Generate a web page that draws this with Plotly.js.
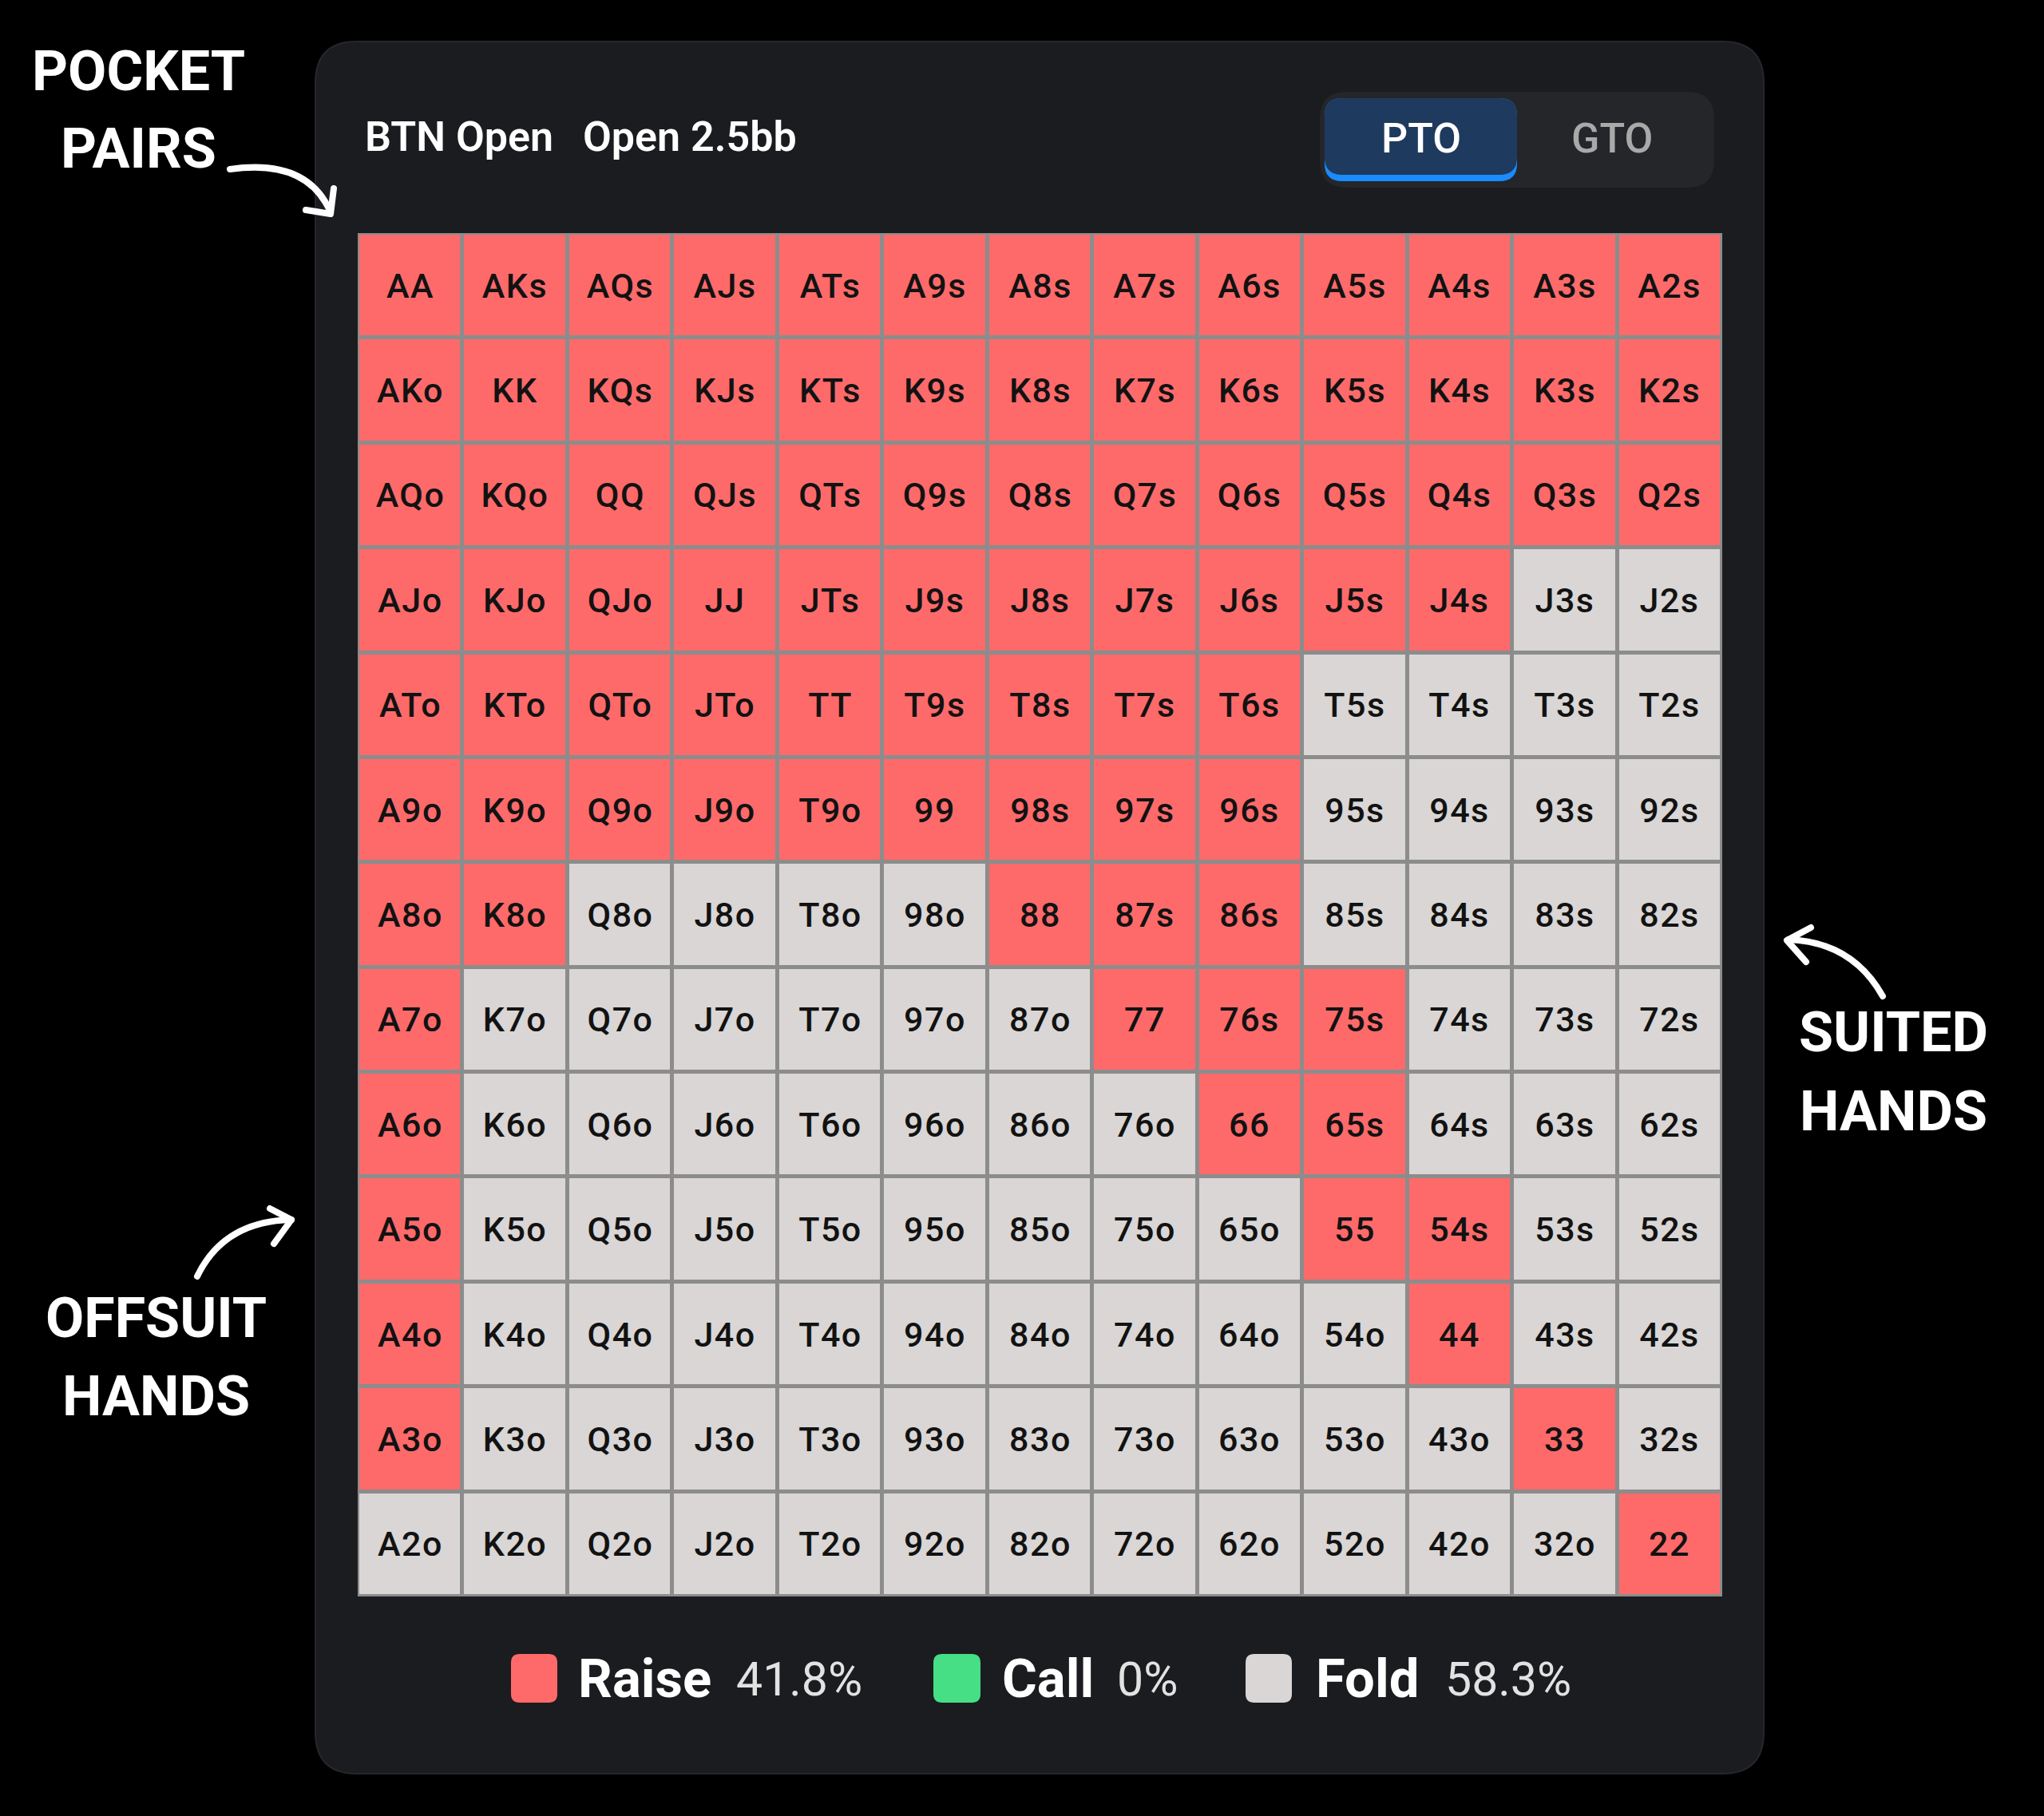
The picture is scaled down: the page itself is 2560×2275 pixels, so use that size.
<!DOCTYPE html>
<html><head><meta charset="utf-8">
<script src="https://cdn.plot.ly/plotly-3.0.1.min.js"></script>
<style>
html,body{margin:0;padding:0;background:#000;}
.shapelayer path{stroke-linecap:round;stroke-linejoin:round;}
.heatmaplayer text{letter-spacing:1.5px;}
</style>
</head><body><div id="chart" style="width:2560px;height:2275px;"></div>
<script>
// ---- data ----
const ranks = ['A','K','Q','J','T','9','8','7','6','5','4','3','2'];
// R = raise, F = fold ; row i / col j : i==j pair, j>i suited, j<i offsuit
const actionRows = [
  'RRRRRRRRRRRRR',
  'RRRRRRRRRRRRR',
  'RRRRRRRRRRRRR',
  'RRRRRRRRRRRFF',
  'RRRRRRRRRFFFF',
  'RRRRRRRRRFFFF',
  'RRFFFFRRRFFFF',
  'RFFFFFFRRRFFF',
  'RFFFFFFFRRFFF',
  'RFFFFFFFFRRFF',
  'RFFFFFFFFFRFF',
  'RFFFFFFFFFFRF',
  'FFFFFFFFFFFFR'
];
const legendNames = ['Raise','Call','Fold'];
const legendPcts = ['41.8%','0%','58.3%'];
const titleParts = ['BTN Open','Open 2.5bb'];
const toggleLabels = ['PTO','GTO'];

// ---- build matrix ----
const idx = ranks.map((r,i)=>i);
const z = actionRows.map(row => row.split('').map(c => c==='R'?1:0));
const labels = ranks.map((ri,i)=>ranks.map((rj,j)=>{
  if(i===j) return ri+rj;
  if(j>i) return ri+rj+'s';
  return rj+ri+'o';
}));

const W=2560, H=2275;
const px = x => x/W;
const py = y => 1-y/H;
const pt = (x,y) => px(x).toFixed(5)+','+py(y).toFixed(5);
function roundRect(x0,y0,x1,y1,r){
  return 'M'+pt(x0+r,y0)+' L'+pt(x1-r,y0)+' Q'+pt(x1,y0)+' '+pt(x1,y0+r)+
    ' L'+pt(x1,y1-r)+' Q'+pt(x1,y1)+' '+pt(x1-r,y1)+
    ' L'+pt(x0+r,y1)+' Q'+pt(x0,y1)+' '+pt(x0,y1-r)+
    ' L'+pt(x0,y0+r)+' Q'+pt(x0,y0)+' '+pt(x0+r,y0)+' Z';
}
function rr(x0,y0,x1,y1,r,fill,line,lw){
  return {type:'path',xref:'paper',yref:'paper',layer:'below',path:roundRect(x0,y0,x1,y1,r),
    fillcolor:fill,line:{color:line||fill,width:lw||0}};
}
function pathShape(d,w){
  return {type:'path',xref:'paper',yref:'paper',layer:'above',path:d,
    fillcolor:'rgba(0,0,0,0)',line:{color:'#ffffff',width:w}};
}
function curve(p0,c,p1){ return 'M'+pt(p0[0],p0[1])+' Q'+pt(c[0],c[1])+' '+pt(p1[0],p1[1]); }
function head(a,t,b){ return 'M'+pt(a[0],a[1])+' L'+pt(t[0],t[1])+' L'+pt(b[0],b[1]); }

const RED='#fe6a6a', GRAY='#d9d6d5', GREEN='#47df86';

const grid = {x0:448,y0:292,x1:2157,y1:2000};

const shapes = [
  rr(395,52,2209,2222,52,'#1b1c1f','#26272b',2),
  {type:'rect',xref:'paper',yref:'paper',layer:'below',x0:px(grid.x0),x1:px(grid.x1),y0:py(grid.y1),y1:py(grid.y0),
    fillcolor:'#8c8c8c',line:{width:0}},
  rr(1653,115,2147,235,34,'#25262a'),
  rr(1659,123,1900,227,22,'#1a8cff'),
  rr(1659,123,1900,219,22,'#1f3a5f'),
  // legend swatches
  rr(640,2072,698,2133,11,RED),
  rr(1169,2072,1228,2133,11,GREEN),
  rr(1560,2072,1618,2133,11,GRAY),
  // arrows
  pathShape(curve([288,212],[385,198],[414,266]),8),
  pathShape(head([383,263],[414,268],[418,236]),8),
  pathShape(curve([2358,1248],[2320,1180],[2240,1177]),8),
  pathShape(head([2268,1162],[2238,1178],[2262,1205]),8),
  pathShape(curve([247,1599],[280,1530],[365,1528]),8),
  pathShape(head([338,1514],[365,1528],[343,1558]),8)
];

function ann(text,x,y,size,color,xanchor,weight){
  return {xref:'paper',yref:'paper',x:px(x),y:py(y),text:text,showarrow:false,
    xanchor:xanchor||'center',yanchor:'middle',
    font:{family:'Roboto',size:size,color:color,weight:weight||400}};
}
const annotations = [
  ann('POCKET',173,89,70,'#ffffff','center',700),
  ann('PAIRS',173,186,70,'#ffffff','center',700),
  ann('SUITED',2371,1293,70,'#ffffff','center',700),
  ann('HANDS',2371,1392,70,'#ffffff','center',700),
  ann('OFFSUIT',195,1651,70,'#ffffff','center',700),
  ann('HANDS',195,1749,70,'#ffffff','center',700),
  ann(titleParts[0],455,171,52,'#ffffff','left',600),
  ann(titleParts[1],728,171,52,'#ffffff','left',600),
  ann(toggleLabels[0],1780,173,52,'#ffffff','center',500),
  ann(toggleLabels[1],2019,173,52,'#a9a9a9','center',500),
  ann(legendNames[0],722,2103,67,'#ffffff','left',700),
  ann(legendPcts[0],920,2103,59,'#e2e2e2','left',400),
  ann(legendNames[1],1253,2103,67,'#ffffff','left',700),
  ann(legendPcts[1],1397,2103,59,'#e2e2e2','left',400),
  ann(legendNames[2],1646,2103,67,'#ffffff','left',700),
  ann(legendPcts[2],1808,2103,59,'#e2e2e2','left',400)
];

const trace = {
  type:'heatmap', x:idx, y:idx, z:z, text:labels, texttemplate:'%{text}',
  textfont:{family:'Roboto',size:43,color:'#121212',weight:500},
  colorscale:[[0,GRAY],[0.5,GRAY],[0.5,RED],[1,RED]], zmin:0, zmax:1,
  showscale:false, xgap:5, ygap:5, hoverinfo:'skip'
};

const layout = {
  width:W, height:H, margin:{l:0,r:0,t:0,b:0,pad:0},
  paper_bgcolor:'#000000', plot_bgcolor:'rgba(0,0,0,0)',
  showlegend:false,
  xaxis:{domain:[px(grid.x0),px(grid.x1)],range:[-0.5,12.5],visible:false,fixedrange:true},
  yaxis:{domain:[py(grid.y1),py(grid.y0)],range:[12.5,-0.5],visible:false,fixedrange:true},
  shapes:shapes, annotations:annotations
};
Plotly.newPlot('chart',[trace],layout,{staticPlot:true,displayModeBar:false});
</script>
</body></html>
